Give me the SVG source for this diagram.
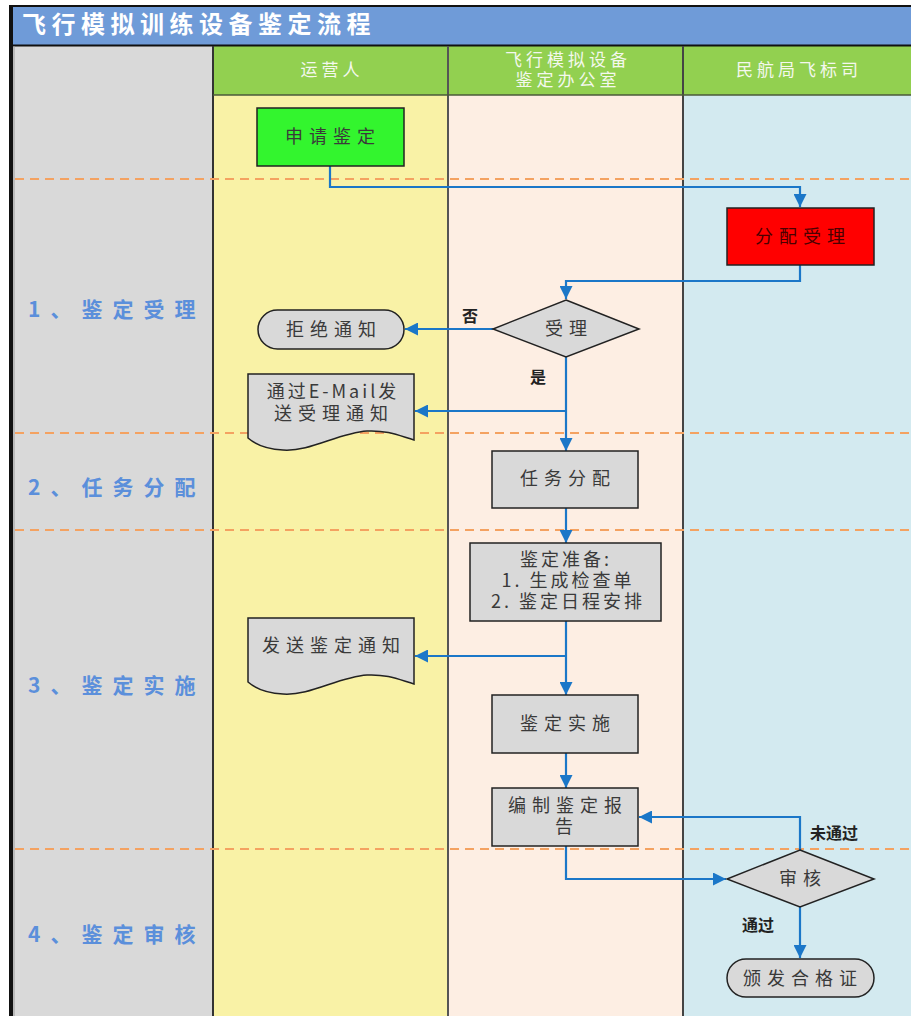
<svg xmlns="http://www.w3.org/2000/svg" width="911" height="1016" viewBox="0 0 911 1016">
<style>
.lbl{font-family:"Noto Sans CJK SC","Liberation Sans",sans-serif;font-size:18px;fill:#3a3a3a;text-anchor:middle;letter-spacing:6px}
.hdr{font-family:"Noto Sans CJK SC","Liberation Sans",sans-serif;font-size:17px;fill:#f4f8ee;text-anchor:middle;letter-spacing:4px}
.phase{font-family:"Noto Sans CJK SC","Liberation Sans",sans-serif;font-size:21px;font-weight:bold;fill:#5b8fdb;letter-spacing:10px}
.cl{font-family:"Noto Sans CJK SC","Liberation Sans",sans-serif;font-size:16px;font-weight:bold;fill:#222}
.box{fill:#d9d9d9;stroke:#222;stroke-width:1.5}
.conn{fill:none;stroke:#1b77c8;stroke-width:2.2}
.dash{stroke:#f4a261;stroke-width:2;stroke-dasharray:9 6}
</style>
<defs>
<marker id="arr" viewBox="0 0 10 10" refX="10" refY="5" markerWidth="13" markerHeight="13" markerUnits="userSpaceOnUse" orient="auto"><path d="M0,0 L10,5 L0,10 z" fill="#1b77c8"/></marker>
</defs>
<rect x="0" y="0" width="911" height="1016" fill="#ffffff"/>
<!-- lanes -->
<rect x="13" y="45" width="200" height="971" fill="#d9d9d9"/>
<rect x="213" y="95" width="235" height="921" fill="#f9f2a6"/>
<rect x="448" y="95" width="235" height="921" fill="#fdeee3"/>
<rect x="683" y="95" width="228" height="921" fill="#d3eaf0"/>
<rect x="213" y="46" width="698" height="49" fill="#92d050"/>
<!-- title -->
<rect x="11" y="6" width="900" height="39" fill="#6f9bd8"/>
<line x1="11" y1="6" x2="911" y2="6" stroke="#111" stroke-width="2"/>
<line x1="11" y1="45.5" x2="911" y2="45.5" stroke="#111" stroke-width="2"/>
<text x="22" y="33" font-family="'Noto Sans CJK SC','Liberation Sans',sans-serif" font-size="24" font-weight="bold" fill="#ffffff" letter-spacing="5.5">飞行模拟训练设备鉴定流程</text>
<!-- borders -->
<line x1="11" y1="5" x2="11" y2="1016" stroke="#111" stroke-width="4"/>
<line x1="14" y1="46" x2="14" y2="1016" stroke="#999" stroke-width="1"/>
<line x1="213" y1="46" x2="213" y2="1016" stroke="#333" stroke-width="2"/>
<line x1="448" y1="46" x2="448" y2="1016" stroke="#555" stroke-width="2"/>
<line x1="683" y1="46" x2="683" y2="1016" stroke="#444" stroke-width="2"/>
<line x1="213" y1="95" x2="911" y2="95" stroke="#4a5a3a" stroke-width="1.5"/>
<!-- headers -->
<text class="hdr" x="332" y="76">运营人</text>
<text class="hdr" x="568" y="66">飞行模拟设备<tspan x="568" dy="20">鉴定办公室</tspan></text>
<text class="hdr" x="799" y="76">民航局飞标司</text>
<!-- phase separators -->
<line class="dash" x1="15" y1="179" x2="911" y2="179"/>
<line class="dash" x1="15" y1="433" x2="911" y2="433"/>
<line class="dash" x1="15" y1="530" x2="911" y2="530"/>
<line class="dash" x1="15" y1="849" x2="911" y2="849"/>
<!-- phase labels -->
<text class="phase" x="28" y="317">1、鉴定受理</text>
<text class="phase" x="28" y="495">2、任务分配</text>
<text class="phase" x="28" y="693">3、鉴定实施</text>
<text class="phase" x="28" y="942">4、鉴定审核</text>
<!-- connectors -->
<g id="connectors">
<path class="conn" d="M330,166 V187 H800 V207" marker-end="url(#arr)"/>
<path class="conn" d="M800,265 V281 H566 V299" marker-end="url(#arr)"/>
<path class="conn" d="M493,329 H405" marker-end="url(#arr)"/>
<path class="conn" d="M566,357 V451" marker-end="url(#arr)"/>
<path class="conn" d="M566,411 H415" marker-end="url(#arr)"/>
<path class="conn" d="M566,508 V543" marker-end="url(#arr)"/>
<path class="conn" d="M566,621 V695" marker-end="url(#arr)"/>
<path class="conn" d="M566,656 H415" marker-end="url(#arr)"/>
<path class="conn" d="M566,753 V788" marker-end="url(#arr)"/>
<path class="conn" d="M566,846 V879 H726" marker-end="url(#arr)"/>
<path class="conn" d="M800,850 V817 H639" marker-end="url(#arr)"/>
<path class="conn" d="M800,907 V958" marker-end="url(#arr)"/>
<text class="cl" x="462" y="322">否</text>
<text class="cl" x="530" y="383">是</text>
<text class="cl" x="810" y="839">未通过</text>
<text class="cl" x="742" y="931">通过</text>
</g>
<!-- nodes -->
<g id="n-apply">
<rect x="257" y="108" width="147" height="58" fill="#33f52e" stroke="#222" stroke-width="1.5"/>
<text class="lbl" x="333" y="143">申请鉴定</text>
</g>
<g id="n-assign-accept">
<rect x="727" y="208" width="147" height="57" fill="#ff0000" stroke="#222" stroke-width="1.5"/>
<text class="lbl" x="803" y="243" style="fill:#4a0000">分配受理</text>
</g>
<g id="n-accept">
<polygon class="box" points="566,300 639,329 566,357 493,329"/>
<text class="lbl" x="569" y="335">受理</text>
</g>
<g id="n-reject">
<rect x="258" y="310" width="146" height="39" rx="19.5" ry="19.5" class="box"/>
<text class="lbl" x="334" y="336">拒绝通知</text>
</g>
<g id="n-email">
<path class="box" d="M248,374 H414 V440 C400,436 388,430 367,431 C338,433 310,452 283,450 C266,449 255,444 248,438 Z"/>
<text class="lbl" x="333" y="398"><tspan style="letter-spacing:3px">通过E-Mail发</tspan><tspan x="334" dy="22">送受理通知</tspan></text>
</g>
<g id="n-task">
<rect class="box" x="492" y="451" width="146" height="57"/>
<text class="lbl" x="568" y="485">任务分配</text>
</g>
<g id="n-prepare">
<rect class="box" x="470" y="543" width="191" height="78"/>
<text class="lbl" x="566" y="566" style="letter-spacing:3px">鉴定准备:<tspan x="568" dy="21">1. 生成检查单</tspan><tspan x="568" dy="21">2. 鉴定日程安排</tspan></text>
</g>
<g id="n-notify">
<path class="box" d="M248,618 H414 V684 C400,680 388,674 367,675 C338,677 310,696 283,694 C266,693 255,688 248,682 Z"/>
<text class="lbl" x="334" y="652">发送鉴定通知</text>
</g>
<g id="n-exec">
<rect class="box" x="492" y="695" width="146" height="58"/>
<text class="lbl" x="568" y="730">鉴定实施</text>
</g>
<g id="n-report">
<rect class="box" x="492" y="788" width="146" height="58"/>
<text class="lbl" x="568" y="812">编制鉴定报<tspan x="567" dy="21">告</tspan></text>
</g>
<g id="n-review">
<polygon class="box" points="800,850 874,879 800,907 727,879"/>
<text class="lbl" x="803" y="885">审核</text>
</g>
<g id="n-cert">
<rect x="727" y="959" width="147" height="38" rx="19" ry="19" class="box"/>
<text class="lbl" x="803" y="985">颁发合格证</text>
</g>
</svg>
